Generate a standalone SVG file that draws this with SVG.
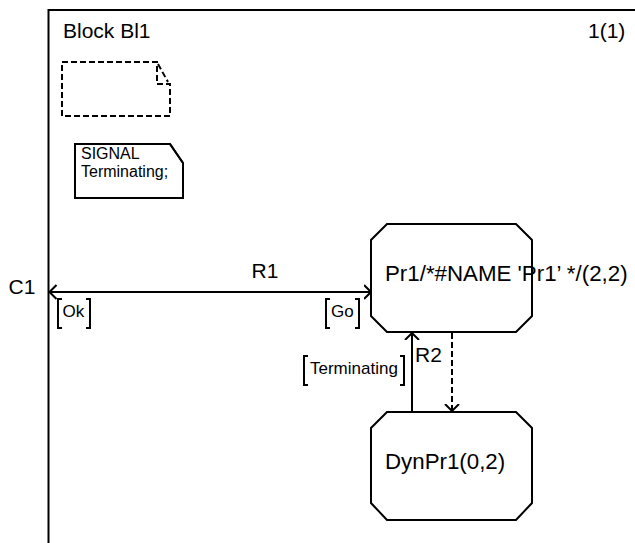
<svg xmlns="http://www.w3.org/2000/svg" width="635" height="543" viewBox="0 0 635 543">
<style>
.ln{fill:none;stroke:#000;stroke-width:2}
.dash{stroke-dasharray:6,3}
.box{fill:#fff;stroke:#000;stroke-width:2}
.big{font-family:"Liberation Sans",Arial,sans-serif;font-size:21px;fill:#000}
.name{font-family:"Liberation Sans",Arial,sans-serif;font-size:22.3px;fill:#000}
.small{font-family:"Liberation Sans",Arial,sans-serif;font-size:17px;fill:#000}
.note{font-family:"Liberation Sans",Arial,sans-serif;font-size:16px;fill:#000}
</style>
<defs>
<marker id="arr" viewBox="0 0 8 16" refX="7" refY="8" markerWidth="8" markerHeight="16" markerUnits="userSpaceOnUse" orient="auto-start-reverse">
<path d="M0,1 L7,8 L0,15" fill="none" stroke="#000" stroke-width="2"/>
</marker>
</defs>
<rect width="635" height="543" fill="#fff"/>
<g id="frame">
<path class="ln" d="M48.5,543 V10 H635"/>
<text class="big" x="63" y="38">Block Bl1</text>
<text class="big" x="588" y="38">1(1)</text>
</g>
<g id="textsymbol">
<path class="ln dash" d="M62,62 H157 V84 H170 V116 H62 Z"/>
<path class="ln dash" d="M158,64 L168,82"/>
</g>
<g id="signal">
<path class="box" d="M75,144 H170 L183,163 V198 H75 Z"/>
<path class="ln" d="M170,144 L183,163"/>
<text class="note" x="81" y="159">SIGNAL</text>
<text class="note" x="81" y="177">Terminating;</text>
</g>
<g id="Pr1">
<path class="box" d="M387,224 H516 L532,240 V316 L516,332 H387 L371,316 V240 Z"/>
<text class="name" x="385" y="281">Pr1/*#NAME 'Pr1’ */(2,2)</text>
</g>
<g id="DynPr1">
<path class="box" d="M387,412 H516 L532,428 V503 L516,520 H387 L371,503 V428 Z"/>
<text class="name" x="385" y="469">DynPr1(0,2)</text>
</g>
<g id="connectors">
<line class="ln" x1="49.5" y1="292" x2="371" y2="292" marker-start="url(#arr)" marker-end="url(#arr)"/>
<text class="big" x="22" y="294" text-anchor="middle">C1</text>
<text class="big" x="265" y="278" text-anchor="middle">R1</text>
<path class="ln" d="M62,299 H58 V328 H62 M86,299 H90 V328 H86"/>
<text class="small" x="62.5" y="317">Ok</text>
<path class="ln" d="M330,299 H326 V328 H330 M355,299 H359 V328 H355"/>
<text class="small" x="331" y="317">Go</text>
<line class="ln" x1="412" y1="411" x2="412" y2="333" marker-end="url(#arr)"/>
<line class="ln dash" x1="452" y1="333" x2="452" y2="411" marker-end="url(#arr)"/>
<text class="big" x="415" y="362">R2</text>
<path class="ln" d="M308,356 H304 V385 H308 M400,356 H404 V385 H400"/>
<text class="small" x="310" y="373.5">Terminating</text>
</g>
</svg>
